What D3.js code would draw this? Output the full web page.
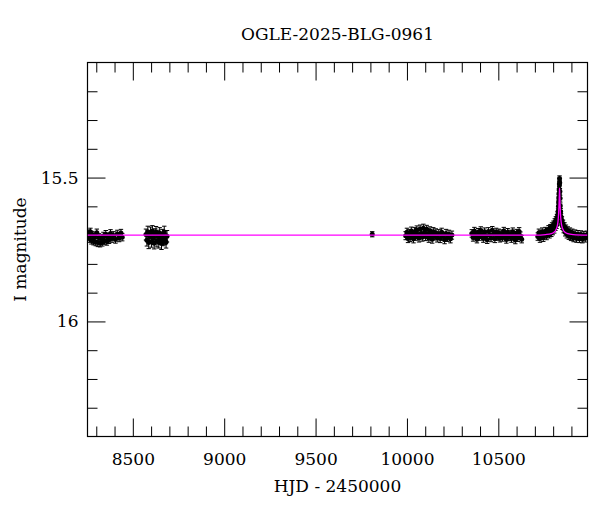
<!DOCTYPE html>
<html>
<head>
<meta charset="utf-8">
<script src="https://cdn.jsdelivr.net/npm/d3@7"></script>
<style>
  html, body { margin: 0; padding: 0; background: #fff; }
  svg { display: block; }
  text { font-family: "DejaVu Serif", "Liberation Serif", serif; fill: #000; }
</style>
</head>
<body>
<svg id="chart" width="600" height="512"></svg>
<script>
// ---- Data ----
const title = "OGLE-2025-BLG-0961";
const xLabel = "HJD - 2450000";
const yLabel = "I magnitude";

const xMajorTicks = [8500, 9000, 9500, 10000, 10500];
const yMajorTicks = [15.5, 16];
const yMajorLabels = ["15.5", "16"];

// Observations: time (HJD-2450000), I magnitude, error
const obsT = [
  8256, 8262, 8268, 8273, 8279, 8285, 8291, 8297, 8303, 8309, 8315, 8321, 8327, 8333, 8339, 8345, 8352, 8358, 8364, 8370, 8378, 8386, 8395, 8405, 8415, 8425, 8435, 8442,
  8572, 8577, 8582, 8587, 8592, 8597, 8602, 8607, 8612, 8617, 8622, 8627, 8632, 8637, 8642, 8647, 8652, 8657, 8662, 8667, 8672, 8677, 8682, 8687,
  9810,
  9993, 10000, 10006, 10012, 10018, 10024, 10030, 10036, 10042, 10048, 10054, 10060, 10066, 10072, 10078, 10084, 10090, 10096, 10102, 10108, 10114, 10120, 10126, 10132, 10138, 10144, 10150, 10158, 10166, 10174, 10182, 10190, 10198, 10206, 10214, 10222, 10230, 10238, 10246,
  10355, 10362, 10369, 10376, 10383, 10390, 10397, 10404, 10411, 10418, 10425, 10432, 10439, 10446, 10453, 10460, 10467, 10474, 10481, 10488, 10495, 10502, 10509, 10516, 10523, 10530, 10537, 10544, 10551, 10558, 10565, 10572, 10579, 10586, 10593, 10600, 10607, 10614, 10621, 10628,
  10716, 10722, 10728, 10734, 10740, 10746, 10752, 10758, 10764, 10770, 10775, 10780, 10785, 10790, 10794, 10798, 10802, 10806, 10809, 10812, 10815, 10818, 10821, 10823, 10825, 10827, 10829, 10830, 10831, 10832, 10833, 10834, 10835, 10836, 10837, 10838, 10839, 10841, 10843, 10845, 10848, 10851, 10854, 10858, 10862, 10866, 10870, 10875, 10880, 10886, 10892, 10898, 10905, 10912, 10920, 10928, 10936, 10944, 10952, 10960, 10968, 10976, 10984
];
const obsMag = [
  15.695, 15.712, 15.688, 15.718, 15.700, 15.722, 15.705, 15.724, 15.692, 15.726, 15.708, 15.728, 15.712, 15.725, 15.703, 15.719, 15.697, 15.722, 15.706, 15.716, 15.694, 15.712, 15.701, 15.715, 15.696, 15.710, 15.693, 15.707,
  15.698, 15.718, 15.688, 15.726, 15.703, 15.692, 15.722, 15.686, 15.710, 15.728, 15.697, 15.690, 15.720, 15.702, 15.725, 15.693, 15.712, 15.729, 15.700, 15.718, 15.689, 15.714, 15.724, 15.704,
  15.697,
  15.702, 15.690, 15.712, 15.695, 15.708, 15.686, 15.700, 15.713, 15.688, 15.704, 15.682, 15.698, 15.710, 15.679, 15.694, 15.707, 15.676, 15.692, 15.705, 15.680, 15.697, 15.711, 15.685, 15.700, 15.714, 15.688, 15.703, 15.692, 15.710, 15.695, 15.712, 15.690, 15.704, 15.716, 15.694, 15.708, 15.697, 15.713, 15.700,
  15.694, 15.708, 15.686, 15.701, 15.714, 15.690, 15.705, 15.684, 15.699, 15.712, 15.688, 15.702, 15.716, 15.687, 15.700, 15.710, 15.683, 15.697, 15.713, 15.689, 15.705, 15.692, 15.711, 15.695, 15.708, 15.686, 15.701, 15.715, 15.690, 15.706, 15.696, 15.712, 15.688, 15.703, 15.717, 15.693, 15.709, 15.687, 15.702, 15.714,
  15.705, 15.692, 15.712, 15.698, 15.688, 15.709, 15.696, 15.686, 15.703, 15.690, 15.680, 15.697, 15.676, 15.692, 15.670, 15.686, 15.664, 15.680, 15.655, 15.672, 15.648, 15.665, 15.640, 15.655, 15.630, 15.618, 15.600, 15.585, 15.570, 15.555, 15.540, 15.522, 15.503, 15.518, 15.548, 15.572, 15.598, 15.618, 15.636, 15.652, 15.648, 15.668, 15.660, 15.680, 15.670, 15.690, 15.678, 15.697, 15.684, 15.702, 15.688, 15.706, 15.692, 15.710, 15.695, 15.712, 15.697, 15.713, 15.698, 15.714, 15.700, 15.711, 15.699
];
const obsErr = [
  0.013, 0.013, 0.012, 0.013, 0.013, 0.012, 0.013, 0.013, 0.013, 0.014, 0.013, 0.013, 0.013, 0.013, 0.013, 0.013, 0.013, 0.013, 0.013, 0.013, 0.013, 0.013, 0.013, 0.013, 0.013, 0.013, 0.013, 0.013,
  0.019, 0.020, 0.019, 0.021, 0.019, 0.020, 0.020, 0.019, 0.021, 0.020, 0.019, 0.020, 0.021, 0.019, 0.020, 0.019, 0.020, 0.021, 0.020, 0.019, 0.020, 0.019, 0.021, 0.020,
  0.009,
  0.014, 0.014, 0.014, 0.014, 0.014, 0.014, 0.014, 0.014, 0.014, 0.014, 0.014, 0.014, 0.014, 0.014, 0.014, 0.014, 0.014, 0.014, 0.014, 0.014, 0.014, 0.014, 0.014, 0.014, 0.014, 0.014, 0.014, 0.014, 0.014, 0.014, 0.014, 0.014, 0.014, 0.014, 0.014, 0.014, 0.014, 0.014, 0.014,
  0.013, 0.013, 0.013, 0.013, 0.013, 0.013, 0.013, 0.013, 0.013, 0.013, 0.013, 0.013, 0.013, 0.013, 0.013, 0.013, 0.013, 0.013, 0.013, 0.013, 0.013, 0.013, 0.013, 0.013, 0.013, 0.013, 0.013, 0.013, 0.013, 0.013, 0.013, 0.013, 0.013, 0.013, 0.013, 0.013, 0.013, 0.013, 0.013, 0.013,
  0.013, 0.013, 0.013, 0.013, 0.013, 0.013, 0.013, 0.013, 0.013, 0.013, 0.013, 0.013, 0.013, 0.013, 0.013, 0.013, 0.013, 0.013, 0.012, 0.012, 0.012, 0.012, 0.012, 0.012, 0.011, 0.011, 0.011, 0.010, 0.010, 0.010, 0.010, 0.009, 0.009, 0.009, 0.010, 0.010, 0.010, 0.011, 0.011, 0.012, 0.012, 0.012, 0.012, 0.012, 0.013, 0.013, 0.013, 0.013, 0.013, 0.013, 0.013, 0.013, 0.013, 0.013, 0.013, 0.013, 0.013, 0.013, 0.013, 0.013, 0.013, 0.013, 0.013
];

// Model curve (magenta)
const modelT = [8252, 10700, 10760, 10790, 10805, 10815, 10822, 10827, 10830, 10832, 10834, 10835, 10836, 10838, 10840, 10843, 10848, 10855, 10865, 10880, 10910, 10988];
const modelMag = [15.700, 15.700, 15.698, 15.695, 15.690, 15.682, 15.670, 15.650, 15.625, 15.595, 15.555, 15.537, 15.555, 15.595, 15.625, 15.650, 15.670, 15.682, 15.690, 15.695, 15.698, 15.700];

// ---- Layout ----
const svg = d3.select("#chart");
const pL = 87.5, pR = 587.5, pT = 62.5, pB = 436.5;
const xDomain = [8252, 10988];
const yDomain = [15.1, 16.4];

const x = d3.scaleLinear().domain(xDomain).range([pL, pR]);
const y = d3.scaleLinear().domain(yDomain).range([pT, pB]);

const majorLen = 18, minorLen = 10;
const g = svg.append("g");

svg.append("clipPath").attr("id", "clip")
  .append("rect").attr("x", pL).attr("y", pT).attr("width", pR - pL).attr("height", pB - pT);

const xMinor = d3.range(8300, 10988, 100).filter(v => !xMajorTicks.includes(v));
const yMinor = d3.range(15.2, 16.35, 0.1).map(v => +v.toFixed(1)).filter(v => !yMajorTicks.includes(v));

function drawAxis(axisGen, transform) {
  const a = g.append("g").attr("transform", transform).call(axisGen);
  a.select(".domain").remove();
  a.selectAll("line").attr("stroke", "#000").attr("stroke-width", 1);
  return a;
}

const bMaj = drawAxis(d3.axisBottom(x).tickValues(xMajorTicks).tickSize(-majorLen).tickPadding(majorLen + 10).tickFormat(d3.format("d")), `translate(0,${pB})`);
bMaj.selectAll("text").attr("font-size", 17).attr("font-family", "DejaVu Serif").attr("dy", "0");
drawAxis(d3.axisBottom(x).tickValues(xMinor).tickSize(-minorLen).tickFormat(""), `translate(0,${pB})`);
drawAxis(d3.axisTop(x).tickValues(xMajorTicks).tickSize(-majorLen).tickFormat(""), `translate(0,${pT})`);
drawAxis(d3.axisTop(x).tickValues(xMinor).tickSize(-minorLen).tickFormat(""), `translate(0,${pT})`);

const lMaj = drawAxis(d3.axisLeft(y).tickValues(yMajorTicks).tickSize(-majorLen).tickPadding(9).tickFormat((d, i) => yMajorLabels[i]), `translate(${pL},0)`);
lMaj.selectAll("text").attr("font-size", 17).attr("font-family", "DejaVu Serif");
drawAxis(d3.axisLeft(y).tickValues(yMinor).tickSize(-minorLen).tickFormat(""), `translate(${pL},0)`);
drawAxis(d3.axisRight(y).tickValues(yMajorTicks).tickSize(-majorLen).tickFormat(""), `translate(${pR},0)`);
drawAxis(d3.axisRight(y).tickValues(yMinor).tickSize(-minorLen).tickFormat(""), `translate(${pR},0)`);

g.append("rect").attr("x", pL).attr("y", pT).attr("width", pR - pL).attr("height", pB - pT)
  .attr("fill", "none").attr("stroke", "#000").attr("stroke-width", 1.2);

// Data
const obs = obsT.map((t, i) => ({ t, m: obsMag[i], e: obsErr[i] }));
const dataG = g.append("g").attr("clip-path", "url(#clip)");
const cap = 2.2;
const eb = dataG.append("g").attr("stroke", "#000").attr("stroke-width", 1);
eb.selectAll("line.v").data(obs).join("line").attr("class", "v")
  .attr("x1", d => x(d.t)).attr("x2", d => x(d.t))
  .attr("y1", d => y(d.m - d.e)).attr("y2", d => y(d.m + d.e));
eb.selectAll("line.t").data(obs).join("line").attr("class", "t")
  .attr("x1", d => x(d.t) - cap).attr("x2", d => x(d.t) + cap)
  .attr("y1", d => y(d.m - d.e)).attr("y2", d => y(d.m - d.e));
eb.selectAll("line.b").data(obs).join("line").attr("class", "b")
  .attr("x1", d => x(d.t) - cap).attr("x2", d => x(d.t) + cap)
  .attr("y1", d => y(d.m + d.e)).attr("y2", d => y(d.m + d.e));
dataG.append("g").selectAll("circle").data(obs).join("circle")
  .attr("cx", d => x(d.t)).attr("cy", d => y(d.m)).attr("r", 2.5).attr("fill", "#000");

// Model line
const model = modelT.map((t, i) => [t, modelMag[i]]);
dataG.append("path").datum(model)
  .attr("d", d3.line().x(d => x(d[0])).y(d => y(d[1])).curve(d3.curveMonotoneX))
  .attr("fill", "none").attr("stroke", "#ff00ff").attr("stroke-width", 1.3);

// Titles
svg.append("text").attr("x", (pL + pR) / 2).attr("y", 40).attr("text-anchor", "middle")
  .attr("font-size", 17).text(title);
svg.append("text").attr("x", (pL + pR) / 2).attr("y", 492).attr("text-anchor", "middle")
  .attr("font-size", 17).text(xLabel);
svg.append("text").attr("transform", `translate(26,${(pT + pB) / 2}) rotate(-90)`).attr("text-anchor", "middle")
  .attr("font-size", 17).text(yLabel);
</script>
</body>
</html>
